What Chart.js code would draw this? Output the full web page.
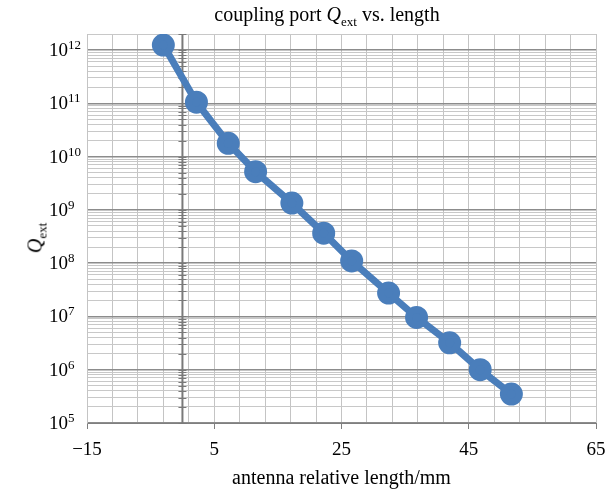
<!DOCTYPE html>
<html>
<head>
<meta charset="utf-8">
<script src="https://cdn.jsdelivr.net/npm/chart.js@4.4.1/dist/chart.umd.min.js"></script>
<style>
    html, body { margin: 0; padding: 0; background: #fff; }
    #wrap { position: relative; width: 616px; height: 498px; }
    #qChart { position: absolute; left: 0; top: 0; }
    .txt { position: absolute; font-family: "Liberation Serif", serif; font-size: 20px; color: #000; white-space: nowrap; line-height: 22px; }
    #title { left: 327px; top: 3px; transform: translateX(-50%); }
    #yTitle { left: 36px; top: 238px; transform: translate(-50%, -50%) rotate(-90deg); }
    .sub { font-size: 13px; position: relative; top: 5px; }
</style>
</head>
<body>
<div id="wrap">
    <canvas id="qChart" width="616" height="498"></canvas>
    <div class="txt" id="title">coupling port <i>Q</i><span class="sub">ext</span> vs. length</div>
    <div class="txt" id="yTitle"><i>Q</i><span class="sub">ext</span></div>
</div>
<script>
// antenna relative length (mm) and external Q
const lengths = [-3, 2.2, 7.2, 11.5, 17.2, 22.2, 26.6, 32.4, 36.8, 42.0, 46.8, 51.7];
const qext = [1.24e12, 1.05e11, 1.78e10, 5.2e9, 1.34e9, 3.66e8, 1.1e8, 2.75e7, 9.6e6, 3.2e6, 1.0e6, 3.5e5];

// axis settings
const xMin = -15, xMax = 65, xGridStep = 4;
const xTickLabels = [-15, 5, 25, 45, 65];
const yExponents = [5, 6, 7, 8, 9, 10, 11, 12];
const yMin = 1e5, yMax = 2e12;
const yAxisCrossAt = 0;

const serif = '"Liberation Serif", serif';

function isDecade(v) {
    const l = Math.log10(v);
    return Math.abs(l - Math.round(l)) < 1e-9;
}

function fmtX(v) {
    return v < 0 ? '\u2212' + Math.abs(v) : String(v);
}

// y labels as 10 with superscript exponent, plus the vertical axis at x = 0
const logAxisPlugin = {
    id: 'logAxis',
    beforeDatasetsDraw(chart) {
        const { ctx, scales: { x, y } } = chart;
        const px = x.getPixelForValue(yAxisCrossAt);
        ctx.save();
        ctx.strokeStyle = '#7a7a7a';
        ctx.lineWidth = 2;
        ctx.beginPath();
        ctx.moveTo(px, y.top);
        ctx.lineTo(px, y.bottom);
        ctx.stroke();
        ctx.lineWidth = 1;
        y.ticks.forEach(t => {
            const py = Math.round(y.getPixelForValue(t.value)) + 0.5;
            ctx.beginPath();
            ctx.moveTo(px - 4, py);
            ctx.lineTo(px + 4, py);
            ctx.stroke();
        });
        ctx.restore();
    },
    afterDraw(chart) {
        const { ctx, scales: { y } } = chart;
        ctx.save();
        ctx.fillStyle = '#000';
        ctx.textAlign = 'left';
        ctx.textBaseline = 'alphabetic';
        yExponents.forEach(e => {
            const py = y.getPixelForValue(Math.pow(10, e));
            ctx.font = '19px ' + serif;
            ctx.fillText('10', 49, py + 6);
            const w = ctx.measureText('10').width;
            ctx.font = '13px ' + serif;
            ctx.fillText(String(e), 49 + w, py - 1);
        });
        ctx.restore();
    }
};

new Chart(document.getElementById('qChart'), {
    type: 'line',
    data: {
        datasets: [{
            label: 'Qext',
            data: lengths.map((l, i) => ({ x: l, y: qext[i] })),
            borderColor: '#4a7ebb',
            backgroundColor: '#4a7ebb',
            borderWidth: 7,
            pointRadius: 8,
            pointHoverRadius: 8,
            fill: false,
            tension: 0
        }]
    },
    options: {
        responsive: false,
        animation: false,
        layout: { padding: { top: 34, right: 20, bottom: 0, left: 0 } },
        plugins: { legend: { display: false }, tooltip: { enabled: false } },
        scales: {
            x: {
                type: 'linear',
                min: xMin,
                max: xMax,
                afterBuildTicks: s => {
                    const ticks = [];
                    for (let v = xMin; v <= xMax; v += xGridStep) ticks.push({ value: v });
                    s.ticks = ticks;
                },
                afterFit: s => { s.height = 75; },
                ticks: {
                    autoSkip: false,
                    maxRotation: 0,
                    padding: 10,
                    color: '#000',
                    font: { family: serif, size: 19 },
                    callback: v => xTickLabels.includes(v) ? fmtX(v) : ''
                },
                grid: {
                    color: '#c4c4c4',
                    lineWidth: 1,
                    tickLength: 6,
                    tickColor: c => xTickLabels.includes(c.tick.value) ? '#7f7f7f' : 'rgba(0,0,0,0)'
                },
                border: { color: '#7f7f7f', width: 1 },
                title: {
                    display: true,
                    text: 'antenna relative length/mm',
                    color: '#000',
                    font: { family: serif, size: 20 },
                    padding: { top: 0, bottom: 7 }
                }
            },
            y: {
                type: 'logarithmic',
                min: yMin,
                max: yMax,
                afterBuildTicks: s => {
                    const ticks = [];
                    yExponents.slice(0, -1).forEach(e => {
                        for (let m = 1; m <= 9; m++) ticks.push({ value: m * Math.pow(10, e) });
                    });
                    ticks.push({ value: Math.pow(10, yExponents[yExponents.length - 1]) });
                    ticks.push({ value: yMax });
                    s.ticks = ticks;
                },
                afterFit: s => { s.width = 87; },
                ticks: { display: false, autoSkip: false },
                grid: {
                    drawTicks: false,
                    color: c => isDecade(c.tick.value) ? '#8c8c8c' : '#c8c8c8',
                    lineWidth: c => isDecade(c.tick.value) ? 1.5 : 1
                },
                border: { color: '#c4c4c4' }
            }
        }
    },
    plugins: [logAxisPlugin]
});
</script>
</body>
</html>
